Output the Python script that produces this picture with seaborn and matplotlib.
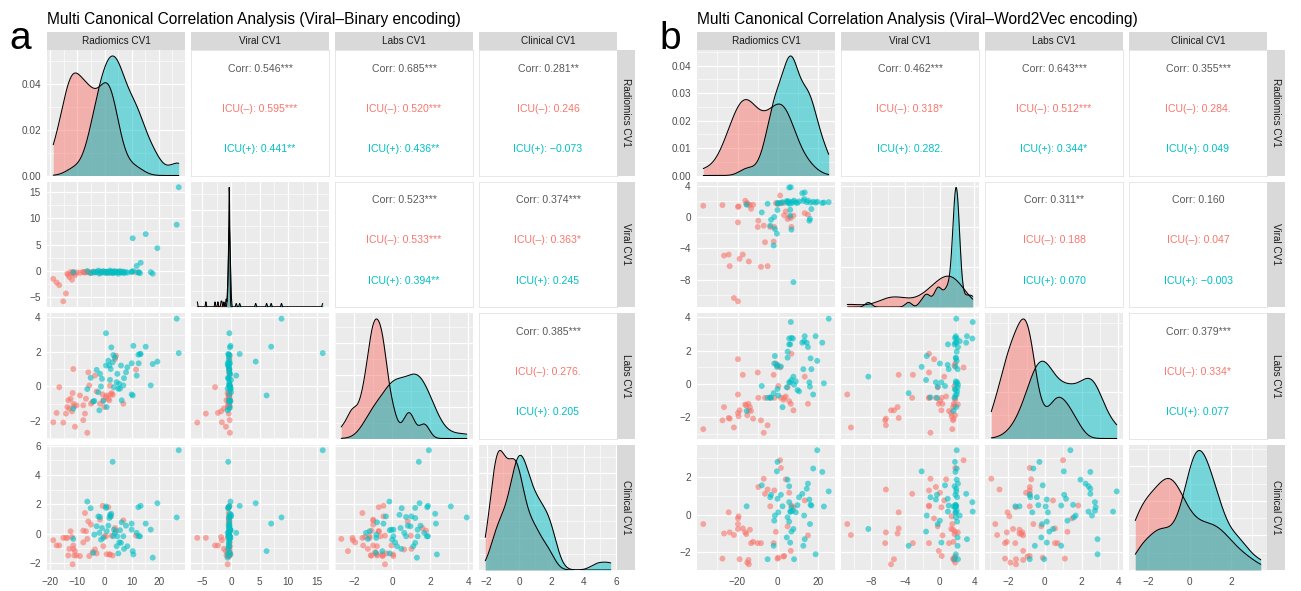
import numpy as np
import pandas as pd
import matplotlib
matplotlib.use("Agg")
import matplotlib.pyplot as plt
from matplotlib.ticker import MaxNLocator, AutoMinorLocator
import seaborn as sns

sns.set_theme(style="white")
plt.rcParams['font.family'] = ['Liberation Sans', 'DejaVu Sans']

# ---------------- data: panel a (Viral-Binary encoding) ----------------
rad_a_neg = [-18.95, -17.72, -16.73, -15.25, -14.26, -13.77, -13.40, -13.03, -12.54, -12.04,
             -11.80, -11.55, -11.55, -11.18, -10.93, -10.32, -9.08, -7.85, -7.85, -7.23,
             -6.86, -6.37, -6.00, -5.63, -5.01, -4.39, -3.53, -2.91, -1.68, -0.69,
             -0.44, -0.07, 0.55, 0.79, 1.41, 1.78, 2.03, 2.28, 2.65, 3.02,
             3.88, 4.25, 6.97, 11.66]
viral_a_neg = [-1.6, -2.3, -2.8, -5.9, -4.4, -0.6, -0.8, -1.25, -0.3, -1.75,
               -0.6, -0.35, -0.4, -0.5, -0.9, -0.35, -0.45, -0.3, -0.25, -0.4,
               -0.3, -0.2, -0.35, -0.3, -0.45, -0.3, -0.25, -0.3, -0.4, -0.3,
               -0.2, -0.35, -0.3, -0.3, -0.45, -0.3, -0.25, -0.35, -0.3, -0.4,
               -0.3, -0.2, -0.3, -0.35]
labs_a_neg = [-2.07, -1.53, -0.04, -2.09, -1.57, -1.19, -0.80, -1.28, -0.71, -1.44,
              -0.38, 1.01, -1.00, -1.13, -2.33, -1.09, -0.52, -1.09, -1.95, -1.57,
              -0.71, -2.68, 0.82, 0.06, -1.00, -0.90, 0.63, -0.29, -1.00, -0.46,
              -0.80, -1.19, -0.61, -0.52, -0.71, -0.80, 0.04, -0.46, -0.38, -0.48,
              1.59, 1.78, -1.00, 0.98]
clin_a_neg = [-0.45, -0.81, -0.81, -0.29, -0.29, -0.29, -1.49, -1.04, 0.16, -0.23,
              -2.09, -1.04, -0.81, -1.49, -1.19, -1.49, -1.53, 0.20, -0.60, 1.40,
              0.16, -0.36, 0.83, -1.53, 0.61, -1.26, -1.08, -1.35, 0.95, 1.89,
              -0.86, -0.18, -0.18, -1.40, 1.80, -1.42, -1.42, 1.17, -0.14, -1.49,
              0.38, 0.20, 0.90, -0.14]

rad_a_pos = [-11.55, -6.37, -5.13, -4.14, -3.77, -2.91, -2.29, -1.92, -1.67, -1.30,
             -0.93, -0.44, 0.55, 0.55, 0.79, 1.41, 1.78, 2.03, 2.28, 2.52,
             3.02, 3.26, 3.51, 3.88, 4.50, 4.74, 5.11, 5.48, 5.73, 6.10,
             6.35, 6.97, 7.21, 7.95, 8.45, 10.05, 10.05, 10.42, 10.67, 11.90,
             12.52, 12.64, 13.14, 13.38, 15.23, 17.09, 17.83, 19.55, 26.71, 27.45]
viral_a_pos = [-0.3, -0.1, -0.5, -0.2, -0.4, -0.3, 0.0, -0.6, -0.2, -0.3,
               -0.4, -0.1, -0.3, -0.5, -0.2, -0.3, -0.4, 0.0, -0.3, -0.2,
               -0.5, -0.3, -0.1, -0.4, -0.3, -0.2, -0.6, -0.3, -0.1, -0.4,
               -0.3, -0.2, -0.5, -0.3, -0.4, -0.2, -0.3, 6.2, -0.1, 0.9,
               -0.4, -0.3, -0.5, 1.5, 7.0, -0.3, -0.6, 4.3, 8.8, 16.0]
labs_a_pos = [-1.28, -0.15, 0.50, -0.86, -0.84, 0.96, -0.33, -1.38, 0.73, 0.00,
              0.44, -0.84, 3.08, 1.21, -1.19, 1.49, 1.21, 0.38, 1.01, 2.26,
              1.40, 1.82, -0.04, 1.68, 0.25, 0.73, -0.13, 0.15, -0.13, 1.21,
              -0.80, 0.06, 0.48, 0.82, 1.11, 1.34, -0.46, -0.52, 2.35, 0.63,
              1.84, 1.34, 1.88, 1.88, 2.30, 0.06, 1.30, 1.44, 3.92, 1.93]
clin_a_pos = [-0.36, 2.18, 1.73, -1.31, -0.07, 0.50, 1.17, 0.05, 1.13, -0.41,
              0.38, -0.29, 1.85, 1.75, 0.16, 0.54, 1.06, 1.28, 1.17, 1.35,
              4.89, -0.18, 0.27, 0.05, -0.86, -0.18, -1.35, -0.59, 0.23, -0.63,
              0.77, -0.18, -1.04, 0.54, -0.86, 0.27, 0.68, -1.19, -1.42, 0.05,
              1.80, -0.18, -0.18, 1.89, 0.68, 0.27, -1.64, 2.07, 1.10, 5.68]

# ---------------- data: panel b (Viral-Word2Vec encoding) ----------------
rad_b_neg = [-37.0, -27.5, -26.7, -24.4, -23.9, -21.8, -19.8, -19.8, -19.8, -19.5,
             -19.0, -17.4, -16.2, -15.7, -15.2, -14.6, -14.4, -13.9, -13.3, -12.3,
             -10.0, -9.7, -8.4, -7.0, -6.4, -5.1, -3.8, -2.1, -1.8, -1.0,
             -0.2, 0.2, 1.1, 1.5, 2.8, 3.1, 3.9, 4.8, 5.6, 6.4,
             6.7, 7.7, 13.3, 14.9]
viral_b_neg = [1.44, 1.53, -4.92, -4.79, -6.27, -10.34, -0.68, -10.76, 1.31, 1.36,
               -5.34, -4.79, 2.08, 1.69, 1.78, 1.61, -5.68, 1.53, 1.06, 1.57,
               -1.27, -0.47, -6.36, -1.10, -3.22, -6.27, -1.27, -3.14, -1.27, 1.78,
               1.69, 1.69, 2.75, 1.78, 1.78, 0.21, 0.72, -0.25, 0.0, -0.13,
               -1.27, 0.17, 0.5, 0.3]
labs_b_neg = [-2.71, -2.18, -1.39, -2.04, -2.08, -2.61, 1.49, -0.63, -1.74, -1.94,
              -1.58, 0.55, -1.23, -1.29, -1.88, -1.19, -1.58, -1.39, -1.62, -2.08,
              0.69, -0.83, -2.18, -2.93, -0.83, -2.48, -0.83, 0.55, -0.83, 1.23,
              1.09, -0.12, 0.99, -0.83, -0.95, -0.83, -0.75, -0.20, -1.03, -1.19,
              1.82, -1.58, 0.44, -1.19]
clin_b_neg = [-0.50, -2.33, -1.00, 0.12, -0.94, -1.08, -0.20, -0.50, -0.76, -0.09,
              -2.36, -0.73, -0.94, -1.03, -2.54, -2.40, -2.63, -0.80, -1.51, -1.44,
              -1.51, 1.46, -1.51, 1.90, 1.10, 1.33, 0.44, -1.51, 1.28, -0.91,
              -2.33, -2.28, 2.88, 2.47, -2.22, -2.19, 1.87, -0.62, 1.16, -1.92,
              0.48, 0.39, 0.75, -1.10]

rad_b_pos = [-15.5, -8.0, -5.1, -3.8, -3.4, -2.1, -1.8, -1.5, -0.5, -0.2,
             -0.2, 0.2, 1.5, 2.3, 4.4, 4.8, 4.8, 5.6, 5.6, 5.6,
             6.1, 6.1, 6.4, 6.7, 6.7, 7.4, 7.7, 8.0, 8.9, 9.7,
             10.5, 12.1, 12.6, 13.0, 13.3, 14.3, 14.9, 15.6, 15.9, 16.2,
             16.6, 17.5, 18.7, 19.5, 22.0, 22.8, 25.2]
viral_b_pos = [1.57, 0.59, 1.69, -1.10, -0.34, -3.64, 0.0, -1.53, -2.12, 1.75,
               0.9, 1.8, 1.8, 1.9, 2.05, 1.95, 1.85, 1.7, 3.77, 2.0,
               0.93, 0.17, 3.81, 1.75, -1.61, 1.95, -8.31, 2.1, 1.85, 1.8,
               2.0, 3.05, 2.05, 2.3, 3.14, 1.9, 2.1, -0.47, -0.25, 1.85,
               1.02, 1.95, 1.85, 1.95, 1.8, 1.85, 1.9]
labs_b_pos = [-1.62, -0.12, -0.83, -0.80, -0.83, -0.55, 1.23, 1.68, 1.03, -0.30,
              1.15, -0.69, 1.05, -1.39, -0.20, 1.94, 1.58, 2.38, 2.73, 0.10,
              2.38, 0.10, 3.72, 2.77, 0.24, 2.73, 0.44, -0.04, 0.16, -0.36,
              -0.44, 2.48, 0.89, 2.57, 2.87, 2.48, 2.22, 0.10, -0.16, 1.54,
              0.89, -0.63, 2.87, 1.39, 2.48, 0.04, 3.92]
clin_b_pos = [0.44, 1.55, -2.36, 0.92, 1.05, -1.65, -0.32, -0.05, 2.29, 2.79,
              0.84, 0.12, 1.05, 0.44, -1.21, 1.85, -0.14, 1.50, 0.66, -0.37,
              0.16, -1.48, 0.16, 0.39, -0.90, 0.21, -0.76, -2.36, 0.12, 0.50,
              0.92, 1.10, -1.65, -0.05, -1.30, 1.37, 1.64, 0.80, -0.50, 0.52,
              0.48, 2.44, -2.10, 3.41, 2.26, 0.43, 1.23]

# ---------------- labels / text ----------------
VARS = ["Radiomics CV1", "Viral CV1", "Labs CV1", "Clinical CV1"]
GROUPS = ["ICU(–)", "ICU(+)"]
PAL = {"ICU(–)": "#F8766D", "ICU(+)": "#00BFC4"}

title_a = "Multi Canonical Correlation Analysis (Viral–Binary encoding)"
title_b = "Multi Canonical Correlation Analysis (Viral–Word2Vec encoding)"

# upper-triangle texts: (row, col): [Corr, ICU(-), ICU(+)]
cor_a = {(0, 1): ["Corr: 0.546***", "ICU(–): 0.595***", "ICU(+): 0.441**"],
         (0, 2): ["Corr: 0.685***", "ICU(–): 0.520***", "ICU(+): 0.436**"],
         (0, 3): ["Corr: 0.281**", "ICU(–): 0.246", "ICU(+): −0.073"],
         (1, 2): ["Corr: 0.523***", "ICU(–): 0.533***", "ICU(+): 0.394**"],
         (1, 3): ["Corr: 0.374***", "ICU(–): 0.363*", "ICU(+): 0.245"],
         (2, 3): ["Corr: 0.385***", "ICU(–): 0.276.", "ICU(+): 0.205"]}
cor_b = {(0, 1): ["Corr: 0.462***", "ICU(–): 0.318*", "ICU(+): 0.282."],
         (0, 2): ["Corr: 0.643***", "ICU(–): 0.512***", "ICU(+): 0.344*"],
         (0, 3): ["Corr: 0.355***", "ICU(–): 0.284.", "ICU(+): 0.049"],
         (1, 2): ["Corr: 0.311**", "ICU(–): 0.188", "ICU(+): 0.070"],
         (1, 3): ["Corr: 0.160", "ICU(–): 0.047", "ICU(+): −0.003"],
         (2, 3): ["Corr: 0.379***", "ICU(–): 0.334*", "ICU(+): 0.077"]}

ticks_a = [[-20, -10, 0, 10, 20], [-5, 0, 5, 10, 15], [-2, 0, 2, 4], [-2, 0, 2, 4, 6]]
ticks_b = [[-20, 0, 20], [-8, -4, 0, 4], [-2, 0, 2, 4], [-2, 0, 2]]
dens_ticks_a = [0.00, 0.02, 0.04]
dens_ticks_b = [0.00, 0.01, 0.02, 0.03, 0.04]


def make_df(neg, pos):
    d1 = pd.DataFrame(dict(zip(VARS, neg)))
    d1["ICU"] = GROUPS[0]
    d2 = pd.DataFrame(dict(zip(VARS, pos)))
    d2["ICU"] = GROUPS[1]
    return pd.concat([d1, d2], ignore_index=True)


df_a = make_df([rad_a_neg, viral_a_neg, labs_a_neg, clin_a_neg],
               [rad_a_pos, viral_a_pos, labs_a_pos, clin_a_pos])
df_b = make_df([rad_b_neg, viral_b_neg, labs_b_neg, clin_b_neg],
               [rad_b_pos, viral_b_pos, labs_b_pos, clin_b_pos])

# ---------------- layout ----------------
W, H = 1301, 591
fig = plt.figure(figsize=(W / 100, H / 100), dpi=100)
fig.patch.set_facecolor("white")

PW, PH, GAP, TOP, STRIP_Y, STRIP = 138, 125.5, 6, 50, 32, 18
TICK_C, LAB_C = "#333333", "#4D4D4D"


def frac(x, y, w, h):
    return [x / W, 1 - (y + h) / H, w / W, h / H]


def fmt(t, dec):
    s = f"{t:.{dec}f}"
    return s.replace("-", "−")


def minor_of(ticks, lo, hi):
    step = ticks[1] - ticks[0]
    cand = [ticks[0] - step / 2] + [t + step / 2 for t in ticks]
    return [c for c in cand if lo <= c <= hi]


def nrd0_factor(v):
    v = np.asarray(v, float)
    sd = v.std(ddof=1)
    q75, q25 = np.percentile(v, [75, 25])
    lo = min(sd, (q75 - q25) / 1.34)
    if lo <= 0:
        lo = sd
    return 0.9 * lo * len(v) ** -0.2 / sd


def style_gray(ax):
    ax.set_facecolor("#EBEBEB")
    for s in ax.spines.values():
        s.set_visible(False)
    ax.grid(True, which="major", color="white", linewidth=0.9)
    ax.grid(True, which="minor", color="white", linewidth=0.45)
    ax.set_axisbelow(True)
    ax.tick_params(which="both", length=0, labelbottom=False, labelleft=False)
    ax.set_xlabel("")
    ax.set_ylabel("")


def draw_pairs(df, x0, title, letter, ticks, cors, dens_ticks):
    lims = []
    for v in VARS:
        lo, hi = df[v].min(), df[v].max()
        r = hi - lo
        lims.append((lo - 0.05 * r, hi + 0.05 * r))

    for i in range(4):
        for j in range(4):
            ax = fig.add_axes(frac(x0 + j * (PW + GAP), TOP + i * (PH + GAP), PW, PH))
            if i > j:
                sns.scatterplot(data=df, x=VARS[j], y=VARS[i], hue="ICU", hue_order=GROUPS,
                                palette=PAL, s=18, alpha=0.6, linewidth=0, legend=False, ax=ax)
                ax.set_xlim(lims[j])
                ax.set_ylim(lims[i])
                ax.set_xticks(ticks[j])
                ax.set_xticks(minor_of(ticks[j], *lims[j]), minor=True)
                ax.set_yticks(ticks[i])
                ax.set_yticks(minor_of(ticks[i], *lims[i]), minor=True)
                style_gray(ax)
            elif i == j:
                v = VARS[i]
                rng = (df[v].min(), df[v].max())
                for g in GROUPS:
                    vals = df.loc[df["ICU"] == g, v].values
                    f = nrd0_factor(vals)
                    sns.kdeplot(x=vals, ax=ax, bw_method=f, cut=1000, clip=rng,
                                gridsize=512, fill=True, color=PAL[g], alpha=0.5, linewidth=0)
                    sns.kdeplot(x=vals, ax=ax, bw_method=f, cut=1000, clip=rng,
                                gridsize=512, fill=False, color="black", linewidth=0.75)
                ax.set_xlim(lims[i])
                ax.set_xticks(ticks[i])
                ax.set_xticks(minor_of(ticks[i], *lims[i]), minor=True)
                if i == 0:
                    ax.set_yticks(dens_ticks)
                    ylo, yhi = ax.get_ylim()
                    ax.set_yticks(minor_of(dens_ticks, ylo, yhi), minor=True)
                else:
                    ax.yaxis.set_major_locator(MaxNLocator(4))
                    ax.yaxis.set_minor_locator(AutoMinorLocator(2))
                style_gray(ax)
            else:
                ax.set_facecolor("white")
                for s in ax.spines.values():
                    s.set_color("#E3E3E3")
                    s.set_linewidth(0.6)
                ax.set_xticks([])
                ax.set_yticks([])
                txt = cors[(i, j)]
                cols = ["#595959", PAL[GROUPS[0]], PAL[GROUPS[1]]]
                for t, c, yy in zip(txt, cols, [0.85, 0.53, 0.21]):
                    ax.text(0.5, yy, t, ha="center", va="center", fontsize=7.6,
                            color=c, transform=ax.transAxes)

            # axis labels on edges
            if j == 0 and i != j:
                ax.tick_params(axis="y", which="major", length=3, width=0.6, color=TICK_C,
                               labelleft=True, labelsize=7.2, labelcolor=LAB_C, pad=1.5)
                ax.set_yticklabels([fmt(t, 0) for t in ticks[i]])
            if i == 0 and j == 0:
                ax.tick_params(axis="y", which="major", length=3, width=0.6, color=TICK_C,
                               labelleft=True, labelsize=7.2, labelcolor=LAB_C, pad=1.5)
                ax.set_yticklabels([fmt(t, 2) for t in dens_ticks])
            if i == 3:
                ax.tick_params(axis="x", which="major", length=3, width=0.6, color=TICK_C,
                               labelbottom=True, labelsize=7.2, labelcolor=LAB_C, pad=2)
                ax.set_xticklabels([fmt(t, 0) for t in ticks[j]])

    # top strips
    for j in range(4):
        sa = fig.add_axes(frac(x0 + j * (PW + GAP), STRIP_Y, PW, STRIP))
        sa.set_facecolor("#D9D9D9")
        for s in sa.spines.values():
            s.set_visible(False)
        sa.set_xticks([])
        sa.set_yticks([])
        sa.text(0.5, 0.5, VARS[j], ha="center", va="center", fontsize=7.2,
                color="#1A1A1A", transform=sa.transAxes)
    # right strips
    xr = x0 + 4 * PW + 3 * GAP
    for i in range(4):
        sa = fig.add_axes(frac(xr, TOP + i * (PH + GAP), STRIP, PH))
        sa.set_facecolor("#D9D9D9")
        for s in sa.spines.values():
            s.set_visible(False)
        sa.set_xticks([])
        sa.set_yticks([])
        sa.text(0.5, 0.5, VARS[i], ha="center", va="center", fontsize=7.2, rotation=-90,
                color="#1A1A1A", transform=sa.transAxes)

    fig.text(x0 / W, 1 - 24 / H, title, fontsize=11.2, ha="left", va="baseline", color="black")
    fig.text((x0 - 38) / W, 1 - 49 / H, letter, fontsize=28, ha="left", va="baseline", color="black")


draw_pairs(df_a, 47, title_a, "a", ticks_a, cor_a, dens_ticks_a)
draw_pairs(df_b, 697, title_b, "b", ticks_b, cor_b, dens_ticks_b)

fig.savefig("out.png", dpi=100)
